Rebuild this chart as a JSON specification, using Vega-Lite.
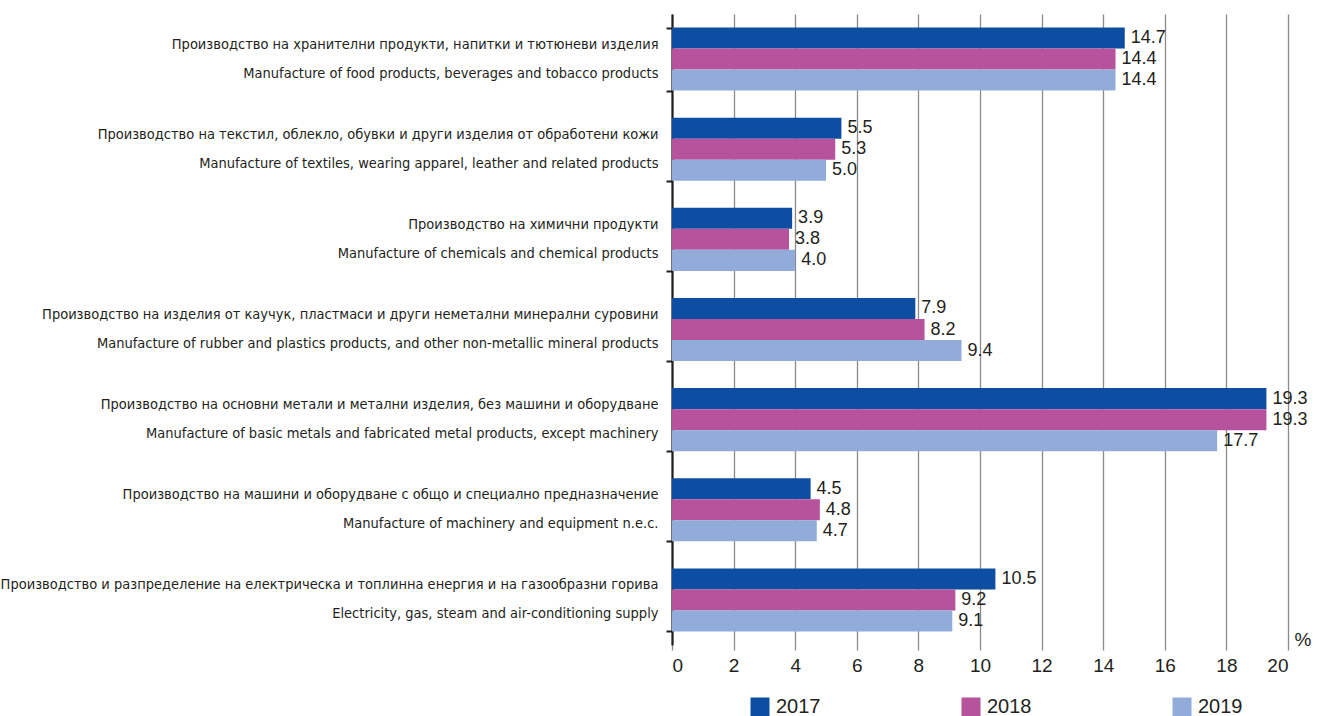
{
  "$schema": "https://vega.github.io/schema/vega-lite/v6.json",
  "width": 616,
  "height": 631,
  "autosize": {"type": "none"},
  "padding": {"left": 672, "top": 14, "right": 39, "bottom": 71},
  "background": "white",
  "config": {"view": {"stroke": null}, "font": "Liberation Sans"},
  "data": {
    "values": [
      {"cat": "Производство на хранителни продукти, напитки и тютюневи изделия|Manufacture of food products, beverages and tobacco products", "year": "2017", "value": 14.7},
      {"cat": "Производство на хранителни продукти, напитки и тютюневи изделия|Manufacture of food products, beverages and tobacco products", "year": "2018", "value": 14.4},
      {"cat": "Производство на хранителни продукти, напитки и тютюневи изделия|Manufacture of food products, beverages and tobacco products", "year": "2019", "value": 14.4},
      {"cat": "Производство на текстил, облекло, обувки и други изделия от обработени кожи|Manufacture of textiles, wearing apparel, leather and related products", "year": "2017", "value": 5.5},
      {"cat": "Производство на текстил, облекло, обувки и други изделия от обработени кожи|Manufacture of textiles, wearing apparel, leather and related products", "year": "2018", "value": 5.3},
      {"cat": "Производство на текстил, облекло, обувки и други изделия от обработени кожи|Manufacture of textiles, wearing apparel, leather and related products", "year": "2019", "value": 5.0},
      {"cat": "Производство на химични продукти|Manufacture of chemicals and chemical products", "year": "2017", "value": 3.9},
      {"cat": "Производство на химични продукти|Manufacture of chemicals and chemical products", "year": "2018", "value": 3.8},
      {"cat": "Производство на химични продукти|Manufacture of chemicals and chemical products", "year": "2019", "value": 4.0},
      {"cat": "Производство на изделия от каучук, пластмаси и други неметални минерални суровини|Manufacture of rubber and plastics products, and other non-metallic mineral products", "year": "2017", "value": 7.9},
      {"cat": "Производство на изделия от каучук, пластмаси и други неметални минерални суровини|Manufacture of rubber and plastics products, and other non-metallic mineral products", "year": "2018", "value": 8.2},
      {"cat": "Производство на изделия от каучук, пластмаси и други неметални минерални суровини|Manufacture of rubber and plastics products, and other non-metallic mineral products", "year": "2019", "value": 9.4},
      {"cat": "Производство на основни метали и метални изделия, без машини и оборудване|Manufacture of basic metals and fabricated metal products, except machinery", "year": "2017", "value": 19.3},
      {"cat": "Производство на основни метали и метални изделия, без машини и оборудване|Manufacture of basic metals and fabricated metal products, except machinery", "year": "2018", "value": 19.3},
      {"cat": "Производство на основни метали и метални изделия, без машини и оборудване|Manufacture of basic metals and fabricated metal products, except machinery", "year": "2019", "value": 17.7},
      {"cat": "Производство на машини и оборудване с общо и  специално предназначение|Manufacture of machinery and equipment n.e.c.", "year": "2017", "value": 4.5},
      {"cat": "Производство на машини и оборудване с общо и  специално предназначение|Manufacture of machinery and equipment n.e.c.", "year": "2018", "value": 4.8},
      {"cat": "Производство на машини и оборудване с общо и  специално предназначение|Manufacture of machinery and equipment n.e.c.", "year": "2019", "value": 4.7},
      {"cat": "Производство и разпределение на електрическа и топлинна енергия и на газообразни горива|Electricity, gas, steam and air-conditioning supply", "year": "2017", "value": 10.5},
      {"cat": "Производство и разпределение на електрическа и топлинна енергия и на газообразни горива|Electricity, gas, steam and air-conditioning supply", "year": "2018", "value": 9.2},
      {"cat": "Производство и разпределение на електрическа и топлинна енергия и на газообразни горива|Electricity, gas, steam and air-conditioning supply", "year": "2019", "value": 9.1}
    ]
  },
  "encoding": {
    "y": {
      "field": "cat",
      "type": "nominal",
      "sort": null,
      "scale": {"paddingInner": 0.3, "paddingOuter": 0.15},
      "axis": {
        "title": null,
        "labelExpr": "split(datum.label, '|')",
        "labelLineHeight": 29,
        "labelOffset": -15,
        "labelFont": "DejaVu Sans Condensed, Roboto Condensed, Liberation Sans Narrow, Roboto",
        "labelFontSize": 14.5,
        "labelColor": "#231f20",
        "labelLimit": 700,
        "labelPadding": 8,
        "domainColor": "#231f20",
        "domainWidth": 2.2,
        "tickColor": "#231f20",
        "tickWidth": 2,
        "tickSize": 6,
        "tickBand": "extent",
        "grid": false
      }
    },
    "yOffset": {"field": "year", "type": "nominal", "sort": ["2017", "2018", "2019"]},
    "x": {
      "field": "value",
      "type": "quantitative",
      "scale": {"domain": [0, 20], "nice": false},
      "axis": {
        "values": [0, 2, 4, 6, 8, 10, 12, 14, 16, 18, 20],
        "grid": true,
        "gridColor": "#8a8a8a",
        "gridWidth": 1.3,
        "domain": false,
        "tickColor": "#8a8a8a",
        "tickWidth": 1.3,
        "tickSize": 5,
        "labelFontSize": 19,
        "labelColor": "#231f20",
        "labelPadding": 6,
        "title": "%",
        "titleFontSize": 19,
        "titleFontWeight": "normal",
        "titleColor": "#231f20",
        "titleX": 622,
        "titleY": -6,
        "titleAlign": "left",
        "titleBaseline": "middle"
      }
    }
  },
  "layer": [
    {
      "mark": {"type": "bar"},
      "encoding": {
        "color": {
          "field": "year",
          "type": "nominal",
          "scale": {"domain": ["2017", "2018", "2019"], "range": ["#0d4ea2", "#b7529c", "#92acd9"]},
          "legend": {
            "orient": "none",
            "direction": "horizontal",
            "columns": 3,
            "legendX": 78,
            "legendY": 683,
            "title": null,
            "symbolType": "square",
            "symbolSize": 361,
            "symbolStrokeWidth": 0,
            "labelFontSize": 20,
            "labelColor": "#231f20",
            "labelOffset": 6,
            "columnPadding": 140
          }
        }
      }
    },
    {
      "mark": {"type": "text", "align": "left", "baseline": "middle", "dx": 6, "fontSize": 18, "color": "#231f20"},
      "encoding": {
        "text": {"field": "value", "type": "quantitative", "format": ".1f"}
      }
    }
  ]
}
